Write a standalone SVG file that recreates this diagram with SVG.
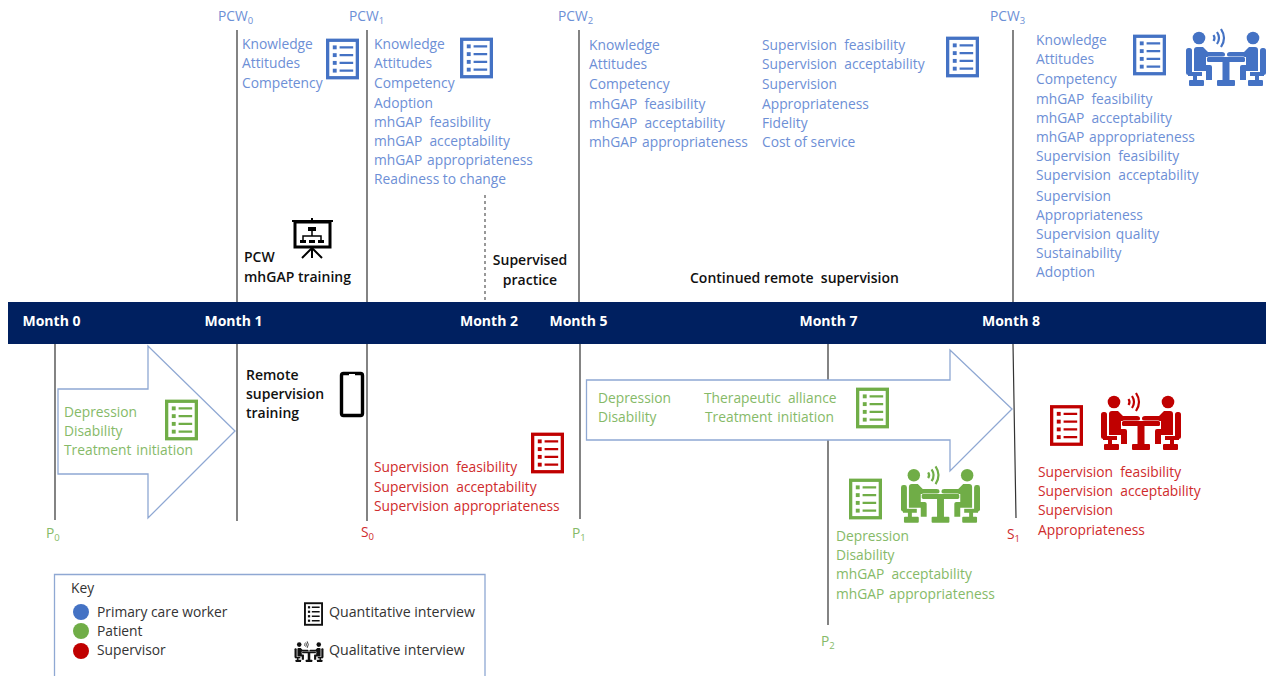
<svg xmlns="http://www.w3.org/2000/svg" width="1266" height="676" viewBox="0 0 1266 676">
<style>
text{font-family:"Open Sans","Noto Sans","Liberation Sans",sans-serif;font-size:13.8px;white-space:pre}
.b{fill:#6d8fd6;color:#4472c4}
.g{fill:#86ba68;color:#70ad47}
.r{fill:#cf2b2b;color:#c00000}
.k{fill:#111;font-weight:600;font-size:14px}
.m{fill:#fff;font-weight:700;font-size:14px;text-anchor:middle}
.t{fill:#333}
.i{font-size:14.2px}
.w{word-spacing:-1.200px}
.ln{stroke:#333;stroke-width:1.2;fill:none}
.ar{fill:#fff;stroke:#8fa8d3;stroke-width:1.3}
.s{font-size:9.500px}
</style>
<defs>
<symbol id="list" viewBox="0 0 34 42" overflow="visible">
<rect x="1.700" y="1.700" width="30.600" height="38.600" fill="none" stroke="currentColor" stroke-width="3.400"/>
<g fill="currentColor"><rect x="7" y="7" width="4" height="4"/><rect x="7" y="15" width="4" height="4"/><rect x="7" y="23" width="4" height="4"/><rect x="7" y="31" width="4" height="4"/></g>
<g stroke="currentColor" stroke-width="2.400"><path d="M14 9H28M14 17H28M14 25H28M14 33H28"/></g>
</symbol>
<symbol id="talk" viewBox="0 0 80 58" overflow="visible">
<g fill="currentColor">
<circle cx="13" cy="10" r="6.300"/><circle cx="67" cy="10" r="6.300"/>
<path d="M8 22q0-3 3-3h6l5 5h14q3 0 3 2.500t-3 2.500H20v8h4q2 0 2 2v13h-6V43H8z"/>
<path d="M72 22q0-3-3-3h-6l-5 5H44q-3 0-3 2.500t3 2.500h16v8h-4q-2 0-2 2v13h6V43h12z"/>
<rect x="0" y="20" width="6" height="27" rx="2.500"/><rect x="74" y="20" width="6" height="27" rx="2.500"/>
<rect x="2" y="44" width="14" height="4"/><rect x="64" y="44" width="14" height="4"/>
<rect x="7" y="47" width="4" height="6"/><rect x="69" y="47" width="4" height="6"/>
<rect x="3" y="52" width="15" height="6" rx="1"/><rect x="62" y="52" width="15" height="6" rx="1"/>
<rect x="21" y="29" width="38" height="5" rx="1.500" stroke="#fff" stroke-width="1" paint-order="stroke"/>
<rect x="36.500" y="33" width="7" height="20"/><rect x="31" y="52" width="18" height="6" rx="1"/>
</g>
<path d="M27.500 7q2 3 0 6M31 4q4 6 0 12M35 1q6 9 0 18" fill="none" stroke="currentColor" stroke-width="2.200"/>
</symbol>
</defs>

<g id="connectors">
<path class="ln" d="M237 30V302M367 30V302M579 30V302M1013 30V302M55 344V520M237 344V521M367 344V521M580 344V519M828 344V625M1013 344L1016 518"/>
<path class="ln" d="M485 195V302" stroke-dasharray="3 3" style="stroke:#555"/>
</g>

<g id="timeline">
<rect x="8" y="302" width="1258" height="42" fill="#002060"/>
<text class="m" x="51.500" y="326">Month 0</text>
<text class="m" x="233.500" y="326">Month 1</text>
<text class="m" x="489" y="326">Month 2</text>
<text class="m" x="578.500" y="326">Month 5</text>
<text class="m" x="828.500" y="326">Month 7</text>
<text class="m" x="1011" y="326">Month 8</text>
</g>

<g id="arrow-p0"><path class="ar" d="M58 389H148V346L235 431L148 518V474H58Z"/>
<g class="g"><text x="64" y="417">Depression</text><text x="64" y="436">Disability</text><text class="w" x="64" y="455">Treatment  initiation</text><use href="#list" x="165" y="399" width="33" height="42"/></g></g>

<g id="arrow-p1"><path class="ar" d="M586.500 380H950V350L1012 409L950 471V440H586.500Z"/>
<g class="g"><text x="598" y="403">Depression</text><text x="598" y="422">Disability</text><text x="704" y="403">Therapeutic  alliance</text><text class="w" x="705" y="422">Treatment  initiation</text><use href="#list" x="856" y="387" width="33" height="42"/></g></g>

<g id="pcw0" class="b"><text x="218" y="21">PCW<tspan class="s" dy="3">0</tspan></text>
<text x="242" y="49">Knowledge</text><text x="242" y="68">Attitudes</text><text x="242" y="88">Competency</text>
<use href="#list" x="326" y="38" width="33" height="42"/></g>

<g id="pcw1" class="b"><text x="349" y="21">PCW<tspan class="s" dy="3">1</tspan></text>
<text x="374" y="49">Knowledge</text><text x="374" y="68">Attitudes</text><text x="374" y="88">Competency</text><text x="374" y="108">Adoption</text><text x="374" y="127">mhGAP  feasibility</text><text x="374" y="146">mhGAP  acceptability</text><text class="w" x="374" y="165">mhGAP  appropriateness</text><text x="374" y="184">Readiness to change</text>
<use href="#list" x="460" y="37" width="33" height="42"/></g>

<g id="pcw2" class="b"><text x="558" y="21">PCW<tspan class="s" dy="3">2</tspan></text>
<text x="589" y="50">Knowledge</text><text x="589" y="69">Attitudes</text><text x="589" y="89">Competency</text><text x="589" y="109">mhGAP  feasibility</text><text x="589" y="128">mhGAP  acceptability</text><text class="w" x="589" y="147">mhGAP  appropriateness</text>
<text x="762" y="50">Supervision  feasibility</text><text x="762" y="69">Supervision  acceptability</text><text x="762" y="89">Supervision</text><text x="762" y="109">Appropriateness</text><text x="762" y="128">Fidelity</text><text x="762" y="147">Cost of service</text>
<use href="#list" x="946" y="36" width="33" height="42"/></g>

<g id="pcw3" class="b"><text x="990" y="21">PCW<tspan class="s" dy="3">3</tspan></text>
<text x="1036" y="45">Knowledge</text><text x="1036" y="64">Attitudes</text><text x="1036" y="84">Competency</text><text x="1036" y="104">mhGAP  feasibility</text><text x="1036" y="123">mhGAP  acceptability</text><text class="w" x="1036" y="142">mhGAP  appropriateness</text><text x="1036" y="161">Supervision  feasibility</text><text x="1036" y="180">Supervision  acceptability</text><text x="1036" y="201">Supervision</text><text x="1036" y="220">Appropriateness</text><text class="w" x="1036" y="239">Supervision  quality</text><text x="1036" y="258">Sustainability</text><text x="1036" y="277">Adoption</text>
<use href="#list" x="1133" y="34" width="33" height="42"/><use href="#talk" x="1186" y="28" width="80" height="58"/></g>

<g id="training">
<text class="k" x="244" y="262">PCW</text><text class="k" x="244" y="282">mhGAP training</text>
<g fill="none" stroke="#000"><rect x="295" y="222" width="35" height="25" stroke-width="3"/><path d="M292 221H333M312 247V258M312 248L302 258M312 248L322 258M312 218V221" stroke-width="2"/><path d="M312 231V236M303 241V236H321V241" stroke-width="1.5"/></g>
<g fill="#000"><rect x="308" y="227" width="8" height="4"/><rect x="300" y="240" width="6" height="3"/><rect x="309" y="240" width="6" height="3"/><rect x="318" y="240" width="6" height="3"/></g>
</g>
<g id="supervised"><text class="k" x="530" y="265" text-anchor="middle">Supervised</text><text class="k" x="530" y="285" text-anchor="middle">practice</text></g>
<g id="continued"><text class="k" x="690" y="283">Continued remote  supervision</text></g>

<g id="remote"><text class="k" x="246" y="380">Remote</text><text class="k" x="246" y="399">supervision</text><text class="k" x="246" y="418">training</text>
<rect x="341.500" y="373.500" width="21" height="42" rx="2" fill="none" stroke="#000" stroke-width="3.400"/><rect x="349" y="374" width="6" height="2" fill="#fff"/></g>

<g id="s0" class="r"><text x="361" y="537">S<tspan class="s" dy="3">0</tspan></text>
<text x="374" y="472">Supervision  feasibility</text><text x="374" y="492">Supervision  acceptability</text><text class="w" x="374" y="511">Supervision  appropriateness</text>
<use href="#list" x="531" y="432" width="33" height="42"/></g>

<g id="s1" class="r"><text x="1007" y="539">S<tspan class="s" dy="3">1</tspan></text>
<text x="1038" y="477">Supervision  feasibility</text><text x="1038" y="496">Supervision  acceptability</text><text x="1038" y="515">Supervision</text><text x="1038" y="535">Appropriateness</text>
<use href="#list" x="1050" y="404" width="33" height="43"/><use href="#talk" x="1101" y="392" width="80" height="58"/></g>

<g id="p0" class="g"><text x="46" y="538">P<tspan class="s" dy="3">0</tspan></text></g>
<g id="p1" class="g"><text x="572" y="538">P<tspan class="s" dy="3">1</tspan></text></g>
<g id="p2" class="g"><text x="821" y="646">P<tspan class="s" dy="3">2</tspan></text>
<text x="836" y="541">Depression</text><text x="836" y="560">Disability</text><text x="836" y="579">mhGAP  acceptability</text><text class="w" x="836" y="599">mhGAP  appropriateness</text>
<use href="#list" x="849" y="478" width="33" height="42"/><use href="#talk" x="901" y="465" width="79" height="58"/></g>

<g id="key">
<path d="M54.500 676V574.500H485V676" fill="#fff" stroke="#8fa8d3" stroke-width="1.300"/>
<text class="t" x="71" y="593">Key</text>
<circle cx="81" cy="612" r="8" fill="#4472c4"/><circle cx="81" cy="631" r="8" fill="#70ad47"/><circle cx="81" cy="651" r="8" fill="#c00000"/>
<text class="t" x="97" y="617">Primary care worker</text><text class="t" x="97" y="636">Patient</text><text class="t" x="97" y="655">Supervisor</text>
<use href="#list" x="304" y="602" width="19" height="24" style="color:#111"/><text class="t i" x="329" y="617">Quantitative interview</text>
<use href="#talk" x="294" y="641" width="30" height="21" style="color:#111"/><text class="t i" x="329" y="655">Qualitative interview</text>
</g>
</svg>
